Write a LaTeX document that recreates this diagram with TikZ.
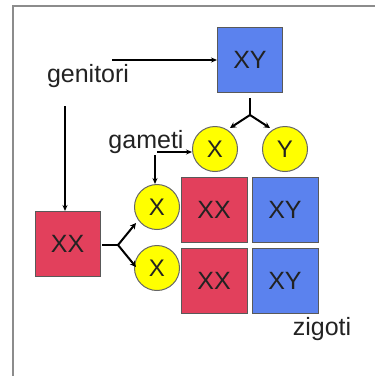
\documentclass[tikz,border=0pt]{standalone}
\usepackage{fontspec}
\setmainfont{Liberation Sans}
\usetikzlibrary{arrows.meta}
\definecolor{boxred}{HTML}{E2405C}
\definecolor{boxblue}{HTML}{5B82EE}
\definecolor{gamyellow}{HTML}{FFFF00}
\definecolor{txt}{HTML}{222222}
\begin{document}
\begin{tikzpicture}[x=1pt,y=-1pt,
  cell/.style={draw=black!65,line width=1pt,minimum width=65pt,minimum height=65pt,inner sep=0pt,text=txt,font=\fontsize{25}{28}\selectfont},
  redcell/.style={cell,fill=boxred},
  bluecell/.style={cell,fill=boxblue},
  gam/.style={circle,draw=black!60,line width=1pt,fill=gamyellow,minimum size=45pt,inner sep=0pt,text=txt,font=\fontsize{24}{28}\selectfont},
  lbl/.style={text=txt,font=\fontsize{25}{28}\selectfont,inner sep=0pt,anchor=base},
  arr/.style={draw=black,line width=1.2pt,-{Stealth[length=6pt,width=5pt]}},
  fork/.style={draw=black,line width=2.2pt},
  forkarr/.style={draw=black,line width=2pt,-{Stealth[length=6pt,width=6pt]}}]
\useasboundingbox (0,0) rectangle (375,376);
% frame
\draw[black!45,line width=2pt] (13,377) -- (13,6) -- (376,6);
% parents
\node[bluecell] (pY) at (250,60) {XY};
\node[redcell] (pX) at (67.5,244) {XX};
\node[lbl] (gen) at (88,82) {genitori};
% gametes
\node[gam] (gX) at (215,149) {X};
\node[gam] (gY) at (285,149) {Y};
\node[gam] (gX1) at (157,207) {X};
\node[gam] (gX2) at (157,268) {X};
\node[lbl] (gam) at (146,148) {gameti};
% zygotes
\node[redcell,minimum width=66pt] (z11) at (214,209.5) {XX};
\node[bluecell,minimum width=66pt] (z12) at (285,209.5) {XY};
\node[redcell,minimum width=66pt] (z21) at (214,280.5) {XX};
\node[bluecell,minimum width=66pt] (z22) at (285,280.5) {XY};
\node[lbl] (zig) at (322,335) {zigoti};
% label arrows
\coordinate (ga) at (112,60);
\coordinate (gb) at (65,106);
\draw[arr] (ga) -- (pY.west);
\draw[arr] (gb) -- (gb |- pX.north);
\coordinate (ma) at (157,152);
\coordinate (mb) at (155,155);
\draw[arr] (ma) -- (ma -| gX.west);
\draw[arr] (mb) -- (mb |- gX1.north);
% forks
\coordinate (ys) at (250,98);
\coordinate (yj) at (250,115);
\draw[fork] (ys) -- (yj);
\draw[forkarr] (yj) -- (230,128);
\draw[forkarr] (yj) -- (270,128);
\coordinate (xs) at (102,245);
\coordinate (xj) at (118,245);
\draw[fork] (xs) -- (xj);
\draw[forkarr] (xj) -- (136,223);
\draw[forkarr] (xj) -- (136,267);
\end{tikzpicture}
\end{document}
